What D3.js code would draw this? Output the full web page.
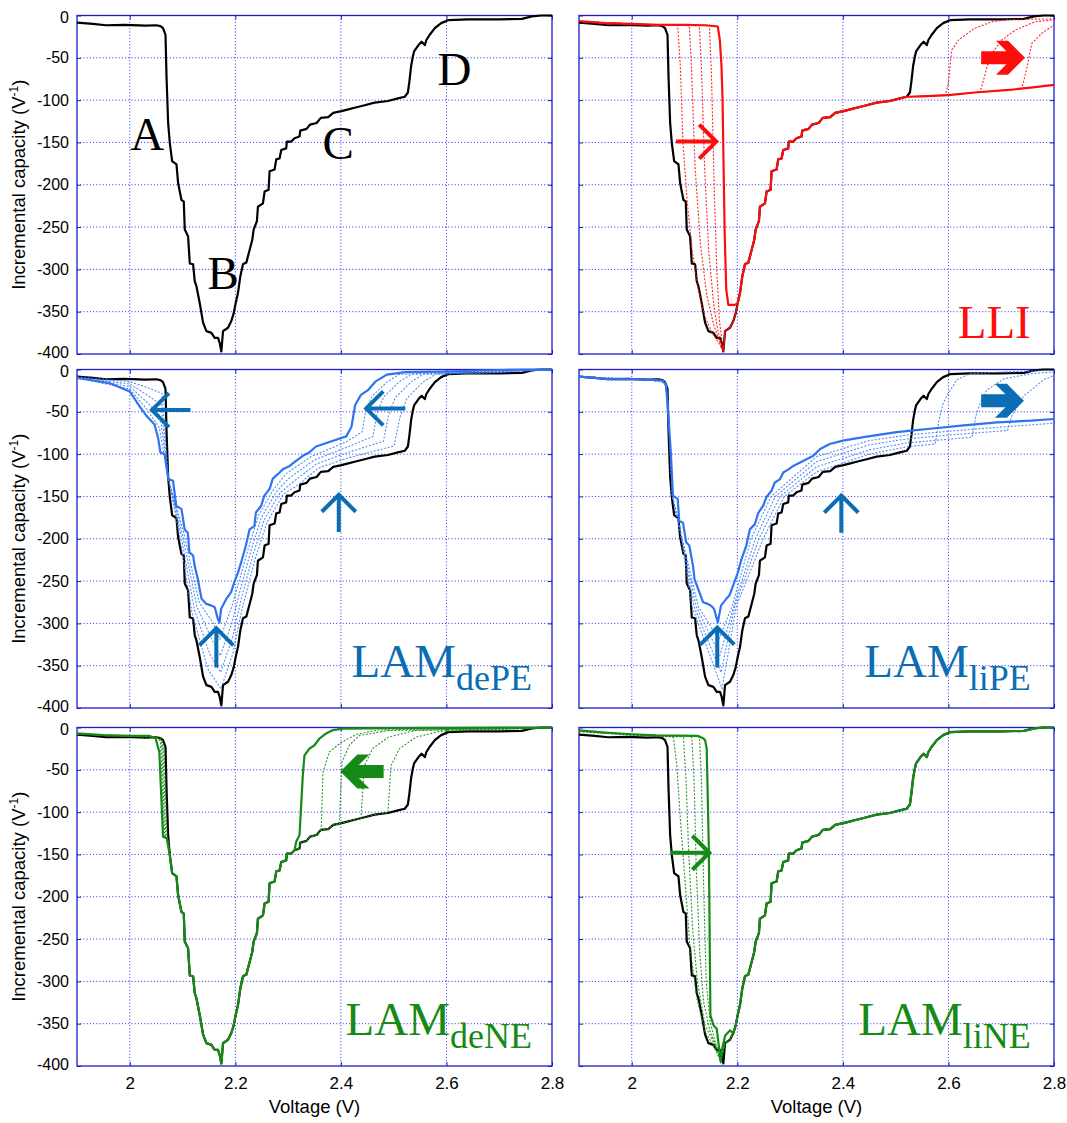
<!DOCTYPE html>
<html>
<head>
<meta charset="utf-8">
<script src="https://cdn.jsdelivr.net/npm/d3@7"></script>
<style>
  body { margin: 0; background: #fff; }
  svg { display: block; }
</style>
</head>
<body>
<svg id="chart" width="1067" height="1123"></svg>
<script>
// ---------------------------------------------------------------
// Axis values
// ---------------------------------------------------------------
const voltageDomain = [1.9, 2.8];
const capacityDomain = [-400, 0];
const voltageTicks = [2, 2.2, 2.4, 2.6, 2.8];
const voltageGrid = [1.9, 2, 2.2, 2.4, 2.6, 2.8];
const capacityTicks = [0, -50, -100, -150, -200, -250, -300, -350, -400];

// ---------------------------------------------------------------
// Pristine cell: incremental capacity vs voltage [V, V^-1]
// ---------------------------------------------------------------
const baseCurve = [
  [1.900,-8.5],[1.930,-10],[1.955,-11.5],[1.990,-11],[2.030,-12],[2.050,-11.5],[2.058,-12.5],[2.063,-15],
  [2.0677,-23],[2.0696,-72],[2.0727,-127],[2.0759,-151],[2.0803,-172],[2.0885,-176],[2.0916,-198],
  [2.0979,-218],[2.1023,-220],[2.1042,-253],[2.1105,-261],[2.1137,-293],[2.1200,-294],[2.1231,-314],
  [2.1263,-320],[2.1326,-340],[2.1389,-363],[2.1452,-373],[2.1547,-375],[2.1609,-381],[2.1672,-381],
  [2.1704,-387],[2.1735,-397],[2.1767,-373],[2.1861,-369],[2.1924,-361],[2.1969,-352],[2.2006,-340],
  [2.2050,-328],[2.2095,-308],[2.2145,-294],[2.2208,-292],[2.2271,-277],[2.2321,-265],[2.2347,-253],
  [2.2409,-243],[2.2428,-226],[2.2523,-222],[2.2555,-208],[2.2630,-206],[2.2649,-184],[2.2744,-182],
  [2.2775,-170],[2.2838,-169],[2.2870,-159],[2.2964,-157],[2.2976,-149],[2.3059,-149],[2.3122,-145],
  [2.3216,-143],[2.3230,-136],[2.3350,-134],[2.3415,-129],[2.3540,-127],[2.3620,-121],[2.3760,-120],
  [2.3855,-115],[2.4010,-113],[2.4140,-111],[2.4260,-109],[2.4450,-106],[2.4640,-103],[2.4890,-101],
  [2.5080,-98],[2.5210,-96],[2.5270,-91],[2.5300,-77],[2.5330,-60],[2.5365,-48],[2.5390,-42],
  [2.5470,-35],[2.5530,-31],[2.5590,-35],[2.5620,-29],[2.5680,-23],[2.5780,-15],[2.5900,-9],
  [2.6030,-5.5],[2.6410,-4.5],[2.7000,-4.5],[2.7430,-4],[2.7620,-1],[2.7800,0],[2.8000,0]
];

// ---------------------------------------------------------------
// LLI: loss of lithium inventory
// ---------------------------------------------------------------
const lliFinalStart = [
  [1.900,-6.5],[1.950,-9],[2.000,-10],[2.050,-11],[2.100,-11],[2.140,-11.5],[2.163,-13],[2.167,-30],
  [2.170,-60],[2.172,-100],[2.174,-180],[2.176,-257],[2.179,-324],[2.183,-342],[2.195,-342],[2.2006,-340]
];
const lliShelf = [[2.550,-95.5],[2.600,-94],[2.650,-91],[2.714,-88],[2.760,-85],[2.800,-82]];
const lliStepsLeft = [
  [[1.9,-7],[2.0,-10],[2.05,-11],[2.087,-12],[2.092,-60],[2.097,-150],[2.105,-220],[2.115,-280],[2.125,-320],[2.138,-355],[2.152,-375],[2.165,-387],[2.1735,-397]],
  [[1.9,-7],[2.0,-10],[2.05,-11],[2.109,-12],[2.113,-60],[2.120,-180],[2.130,-270],[2.142,-330],[2.155,-365],[2.166,-385],[2.1735,-397]],
  [[1.9,-7],[2.0,-10],[2.05,-11],[2.128,-12],[2.132,-60],[2.138,-180],[2.146,-280],[2.155,-340],[2.163,-372],[2.1735,-397]],
  [[1.9,-7],[2.0,-10],[2.05,-11],[2.147,-12],[2.151,-70],[2.156,-200],[2.161,-300],[2.166,-360],[2.1735,-397]]
];
const lliStepsRight = [
  [[2.594,-94],[2.600,-80],[2.606,-41],[2.619,-29],[2.650,-15],[2.682,-7.5],[2.714,-4.7],[2.800,-4]],
  [[2.660,-90.5],[2.667,-75],[2.673,-61],[2.682,-45],[2.701,-29],[2.727,-17],[2.764,-7.5],[2.800,-5]],
  [[2.739,-86.5],[2.749,-61],[2.758,-33],[2.777,-21],[2.800,-11]],
  [[2.800,-82]]
];

// ---------------------------------------------------------------
// LAM of delithiated positive electrode
// ---------------------------------------------------------------
const dePeFinal = [
  [1.900,-10],[1.961,-16],[2.000,-26],[2.017,-42],[2.032,-55],[2.047,-65],[2.054,-82],[2.058,-98],[2.066,-100],
  [2.073,-129.5],[2.082,-131.5],[2.088,-161],[2.098,-165],[2.104,-189],[2.110,-193],[2.113,-216],[2.120,-220],
  [2.123,-232],[2.129,-248],[2.136,-271],[2.145,-277],[2.155,-279],[2.161,-281],[2.167,-295],[2.170,-299],
  [2.173,-283],[2.183,-271],[2.192,-263],[2.198,-251.5],[2.205,-240],[2.211,-228],[2.220,-208],[2.227,-189],
  [2.236,-185],[2.239,-169],[2.249,-161],[2.255,-149],[2.265,-141],[2.271,-129],[2.280,-124],[2.290,-118],
  [2.303,-114],[2.315,-108],[2.328,-102],[2.340,-98],[2.353,-91],[2.381,-85],[2.410,-79],[2.420,-68],
  [2.427,-42],[2.438,-30],[2.452,-24],[2.466,-14],[2.487,-6],[2.522,-3],[2.592,-2.4],[2.662,-1.2],[2.760,0],[2.800,0]
];
const dePeSteps = [
  [[1.9,-9.7],[2.0,-23.1],[2.0316,-46.4],[2.0558,-68.6],[2.073,-129.4],[2.1015,-190.8],[2.1315,-275.4],[2.1578,-299.4],
   [2.1707,-318.6],[2.193,-280.8],[2.2069,-250.8],[2.2246,-211.6],[2.2442,-172],[2.2715,-142.6],[2.2963,-123],
   [2.3444,-102.6],[2.4108,-85.4],[2.4402,-73.6],[2.4482,-45.6],[2.4598,-31],[2.4884,-14.2],[2.5102,-5.9],[2.62,-2.8],[2.8,0]],
  [[1.9,-9.4],[2.0,-20.2],[2.0312,-37.8],[2.0576,-55.2],[2.073,-128.8],[2.099,-192.6],[2.127,-279.8],[2.1547,-317.8],
   [2.1714,-338.2],[2.194,-298.6],[2.2088,-261.6],[2.2291,-215.2],[2.2494,-175],[2.278,-144.2],[2.3026,-128],
   [2.3488,-107.2],[2.4116,-91.8],[2.4606,-79.2],[2.4694,-49.2],[2.4816,-32],[2.5108,-14.4],[2.5334,-5.8],[2.64,-3.2],[2.8,0]],
  [[1.9,-9.1],[2.0,-17.3],[2.0308,-29.2],[2.0594,-41.8],[2.073,-128.2],[2.0966,-194.4],[2.1226,-284.2],[2.1515,-336.2],
   [2.1721,-357.8],[2.195,-316.4],[2.2107,-272.4],[2.2337,-218.8],[2.2545,-178],[2.2846,-145.8],[2.309,-133],
   [2.3532,-111.8],[2.4124,-98.2],[2.4806,-84.8],[2.4906,-52.8],[2.5034,-33],[2.5332,-14.6],[2.5566,-5.7],[2.66,-3.7],[2.8,0]],
  [[1.9,-8.8],[2.0,-14.4],[2.0304,-20.6],[2.0612,-28.4],[2.073,-127.6],[2.0941,-196.2],[2.1182,-288.6],[2.1484,-354.6],
   [2.1728,-377.4],[2.196,-334.2],[2.2126,-283.2],[2.2382,-222.4],[2.2597,-181],[2.2911,-147.4],[2.3153,-138],
   [2.3576,-116.4],[2.4132,-104.6],[2.5008,-90.4],[2.5118,-56.4],[2.5252,-34],[2.5556,-14.8],[2.5798,-5.6],[2.68,-4.1],[2.8,0]]
];

// ---------------------------------------------------------------
// LAM of lithiated positive electrode
// ---------------------------------------------------------------
const liPeFinal = [
  [1.900,-8.5],[1.930,-10],[1.955,-11.5],[1.990,-11],[2.030,-12],[2.059,-13],[2.065,-19],[2.068,-43],[2.074,-98],
  [2.078,-149],[2.087,-153],[2.090,-179],[2.097,-181],[2.103,-204],[2.109,-208],[2.116,-232],[2.119,-248],
  [2.128,-263],[2.135,-275],[2.144,-277],[2.150,-279],[2.156,-283],[2.163,-299],[2.169,-279],[2.179,-271],
  [2.185,-267],[2.192,-255.5],[2.201,-240],[2.208,-224],[2.217,-208],[2.224,-188.6],[2.233,-183],[2.240,-169],
  [2.249,-161],[2.255,-151],[2.265,-143],[2.271,-133.5],[2.281,-129.5],[2.287,-121.7],[2.297,-118],[2.306,-114],
  [2.319,-110],[2.331,-106],[2.344,-102],[2.357,-94],[2.375,-88],[2.400,-84],[2.439,-80],[2.502,-74],[2.534,-72],
  [2.565,-70],[2.629,-66],[2.692,-62.5],[2.756,-60.5],[2.800,-58.5]
];
const liPeSteps = [
  [[1.9,-8.5],[2.03,-12],[2.063,-15],[2.0685,-40],[2.077,-150],[2.09,-185],[2.126,-280],[2.165,-319],[2.19,-280],
   [2.226,-200],[2.264,-150],[2.35,-103],[2.45,-84],[2.52,-77.6],[2.6,-73],[2.7,-68],[2.8,-63.5]],
  [[1.9,-8.5],[2.03,-12],[2.063,-15],[2.0685,-40],[2.077,-150],[2.09,-185],[2.122,-280],[2.167,-338],[2.193,-280],
   [2.234,-200],[2.272,-150],[2.35,-109],[2.45,-89],[2.52,-82.2],[2.6,-77.5],[2.712,-72],[2.72,-55],[2.743,-31],[2.781,-12],[2.8,-7]],
  [[1.9,-8.5],[2.03,-12],[2.063,-15],[2.0685,-40],[2.077,-150],[2.09,-185],[2.118,-280],[2.169,-358],[2.195,-280],
   [2.241,-200],[2.281,-150],[2.35,-115],[2.45,-95],[2.52,-86.8],[2.58,-83.5],[2.645,-80],[2.652,-55],[2.66,-40],
   [2.673,-24],[2.705,-11],[2.756,-5],[2.8,-3]],
  [[1.9,-8.5],[2.03,-12],[2.063,-15],[2.0685,-40],[2.077,-150],[2.09,-185],[2.114,-280],[2.171,-377],[2.198,-280],
   [2.249,-200],[2.289,-150],[2.35,-121],[2.45,-100],[2.52,-91.4],[2.575,-88],[2.582,-60],[2.59,-40],[2.6,-28],
   [2.616,-12],[2.641,-5],[2.7,-3],[2.8,-1]]
];

// ---------------------------------------------------------------
// LAM of delithiated negative electrode
// ---------------------------------------------------------------
const deNeStart = [[1.900,-7],[1.950,-9],[2.000,-10],[2.038,-10],[2.049,-13],[2.056,-29],[2.059,-72],[2.063,-129],[2.070,-131],[2.0727,-140]];
const deNeEnd = [
  [2.3153,-135],[2.3216,-127],[2.3279,-56],[2.331,-33],[2.3405,-25],[2.350,-21],[2.3594,-13],[2.372,-7],
  [2.385,-3],[2.4036,-1.4],[2.492,-0.8],[2.618,-0.5],[2.800,0]
];
const deNeStepsLeft = [
  [[1.9,-7.5],[2.0,-10.5],[2.04,-11],[2.052,-12],[2.058,-16],[2.061,-60],[2.064,-128],[2.072,-132]],
  [[1.9,-7.5],[2.0,-10.5],[2.04,-11],[2.054,-12],[2.060,-17],[2.063,-60],[2.066,-128],[2.073,-133]],
  [[1.9,-7.5],[2.0,-10.5],[2.04,-11],[2.056,-12],[2.062,-17],[2.065,-60],[2.068,-128],[2.0735,-135]],
  [[1.9,-7.5],[2.0,-10.5],[2.04,-11],[2.058,-12],[2.064,-18],[2.067,-60],[2.0705,-128],[2.074,-140]]
];
const deNeStepsRight = [
  [[2.3626,-123],[2.366,-53],[2.378,-29],[2.400,-18],[2.430,-8],[2.470,-3],[2.550,-2],[2.800,0]],
  [[2.397,-115],[2.402,-41],[2.416,-21],[2.435,-9.5],[2.490,-3.6],[2.800,-0.5]],
  [[2.438,-107.5],[2.4446,-45],[2.460,-25],[2.490,-11.4],[2.540,-3.6],[2.800,-0.5]],
  [[2.489,-101],[2.495,-45],[2.511,-25],[2.542,-11.4],[2.586,-4.8],[2.650,-3],[2.800,-0.5]]
];

// ---------------------------------------------------------------
// LAM of lithiated negative electrode
// ---------------------------------------------------------------
const liNeStart = [
  [1.900,-3.5],[1.950,-6],[2.000,-8],[2.047,-9.4],[2.126,-10],[2.136,-13],[2.139,-15],[2.142,-25],[2.146,-143],
  [2.149,-340],[2.155,-352],[2.161,-356],[2.1685,-395],[2.171,-380],[2.177,-364],[2.186,-358]
];
const liNeStepsLeft = [
  [[1.9,-5],[2.0,-9],[2.05,-10.5],[2.075,-11],[2.079,-12],[2.0853,-45],[2.0916,-104],[2.1011,-183],[2.1106,-262],[2.1233,-320],[2.139,-360],[2.155,-376],[2.1685,-395]],
  [[1.9,-4.5],[2.0,-8.7],[2.05,-10],[2.094,-11],[2.098,-12],[2.103,-65],[2.1075,-143],[2.1157,-242],[2.1245,-301],[2.139,-352],[2.158,-376],[2.1685,-395]],
  [[1.9,-4],[2.0,-8.4],[2.05,-9.8],[2.110,-10.5],[2.1138,-12],[2.1182,-65],[2.122,-163],[2.1283,-261],[2.136,-324],[2.1486,-360],[2.1612,-378],[2.1685,-395]],
  [[1.9,-4],[2.0,-8.2],[2.05,-9.6],[2.124,-10.5],[2.1283,-12],[2.1321,-65],[2.136,-183],[2.141,-301],[2.1486,-348],[2.158,-372],[2.1685,-395]]
];

// ---------------------------------------------------------------
// Annotations (anchored in data units)
// ---------------------------------------------------------------
const peakLetters = [
  { text: "A", v: 2.033, c: -159 },
  { text: "B", v: 2.177, c: -323 },
  { text: "C", v: 2.395, c: -170 },
  { text: "D", v: 2.615, c: -82 }
];
const lliArrows = [
  { kind: "thin", from: [2.084, -149], to: [2.160, -149] },
  { kind: "bold", from: [2.662, -50], to: [2.745, -50] }
];
const dePeArrows = [
  { kind: "thin", from: [2.115, -48], to: [2.042, -48] },
  { kind: "thin", from: [2.522, -46], to: [2.448, -46] },
  { kind: "thin", from: [2.396, -192], to: [2.396, -148] },
  { kind: "thin", from: [2.164, -352], to: [2.164, -306] }
];
const liPeArrows = [
  { kind: "thin", from: [2.162, -352], to: [2.162, -305] },
  { kind: "thin", from: [2.397, -193], to: [2.397, -149] },
  { kind: "bold", from: [2.662, -37], to: [2.743, -37] }
];
const deNeArrows = [
  { kind: "bold", from: [2.481, -52], to: [2.399, -52] }
];
const liNeArrows = [
  { kind: "thin", from: [2.073, -148], to: [2.147, -148] }
];

// ---------------------------------------------------------------
// Assemble curves from the measured pieces
// ---------------------------------------------------------------
const seg = (curve, v0, v1) => curve.filter(p => p[0] >= v0 && p[0] <= v1);

const lliFinal = [...lliFinalStart, ...seg(baseCurve, 2.201, 2.522), ...lliShelf];
const lliSteps = lliStepsLeft.map((left, i) => {
  const right = lliStepsRight[i];
  return [...left, ...seg(baseCurve, 2.175, 2.522), ...seg(lliShelf, 2.53, right[0][0] - 1e-6), ...right];
});
const deNeFinal = [...deNeStart, ...seg(baseCurve, 2.075, 2.3125), ...deNeEnd];
const deNeSteps = deNeStepsLeft.map((left, i) => {
  const right = deNeStepsRight[i];
  return [...left, ...seg(baseCurve, 2.0755, right[0][0] - 1e-6), ...right];
});
const liNeFinal = [...liNeStart, ...seg(baseCurve, 2.19, 2.8)];
const liNeSteps = liNeStepsLeft.map(left => [...left, ...seg(baseCurve, 2.175, 2.8)]);

// ---------------------------------------------------------------
// Layout and styles
// ---------------------------------------------------------------
const colX = [77, 579];
const rowY = [15.5, 369.5, 727.5];
const panelW = 475, panelH = 338.5;

const RED = "#ff0d0d", BLUE = "#2f72f2", BLUE_DARK = "#0b6db3", GREEN = "#168a16";
const GRID = "#2b2be6", FRAME = "#1c1cc8";
const SANS = "'Liberation Sans', Arial, Helvetica, sans-serif";
const SERIF = "'Liberation Serif', 'Times New Roman', Times, serif";

const panels = [
  { col: 0, row: 0, color: null, steps: [], final: null, letters: peakLetters, arrows: [], arrowColor: "#000" },
  { col: 1, row: 0, color: RED, stepColor: RED, steps: lliSteps, final: lliFinal,
    label: { main: "LLI", sub: "", v: 2.756, c: -381 }, arrows: lliArrows, arrowColor: RED },
  { col: 0, row: 1, color: BLUE, stepColor: "#3f82f0", steps: dePeSteps, final: dePeFinal,
    label: { main: "LAM", sub: "dePE", v: 2.762, c: -363 }, arrows: dePeArrows, arrowColor: BLUE_DARK, labelColor: BLUE_DARK },
  { col: 1, row: 1, color: BLUE, stepColor: "#3f82f0", steps: liPeSteps, final: liPeFinal,
    label: { main: "LAM", sub: "liPE", v: 2.756, c: -363 }, arrows: liPeArrows, arrowColor: BLUE_DARK, labelColor: BLUE_DARK },
  { col: 0, row: 2, color: GREEN, stepColor: GREEN, steps: deNeSteps, final: deNeFinal,
    label: { main: "LAM", sub: "deNE", v: 2.762, c: -363 }, arrows: deNeArrows, arrowColor: GREEN },
  { col: 1, row: 2, color: GREEN, stepColor: GREEN, steps: liNeSteps, final: liNeFinal,
    label: { main: "LAM", sub: "liNE", v: 2.756, c: -363 }, arrows: liNeArrows, arrowColor: GREEN }
];

const svg = d3.select("#chart");
svg.append("rect").attr("width", 1067).attr("height", 1123).attr("fill", "#fff");

panels.forEach((p, idx) => {
  const left = colX[p.col], top = rowY[p.row];
  const x = d3.scaleLinear().domain(voltageDomain).range([left, left + panelW]);
  const y = d3.scaleLinear().domain(capacityDomain).range([top + panelH, top]);
  const g = svg.append("g").attr("class", "panel");

  // dotted grid
  g.append("g").selectAll("line").data(voltageGrid.slice(1, -1)).join("line")
    .attr("x1", d => x(d)).attr("x2", d => x(d)).attr("y1", top).attr("y2", top + panelH)
    .attr("stroke", GRID).attr("stroke-width", 1).attr("stroke-dasharray", "1,2.2");
  g.append("g").selectAll("line").data(capacityTicks.slice(1, -1)).join("line")
    .attr("x1", left).attr("x2", left + panelW).attr("y1", d => y(d)).attr("y2", d => y(d))
    .attr("stroke", GRID).attr("stroke-width", 1).attr("stroke-dasharray", "1,2.2");

  // axes: inward ticks on every side, labels on the outer edges only
  const styleAxis = sel => {
    sel.select(".domain").remove();
    sel.selectAll(".tick line").attr("stroke", FRAME);
    sel.selectAll(".tick text").attr("fill", "#000").style("font-family", SANS).style("font-size", "16px");
  };
  const yAxis = g.append("g").attr("transform", `translate(${left},0)`)
    .call(d3.axisLeft(y).tickValues(capacityTicks).tickSizeInner(-4).tickSizeOuter(0).tickPadding(8)
      .tickFormat(d => p.col === 0 ? String(d) : ""))
    .call(styleAxis);
  // keep the end labels of stacked panels apart
  yAxis.selectAll(".tick text").attr("dy", d => d === 0 ? "0.42em" : d === -400 ? "0.22em" : "0.32em");
  g.append("g").attr("transform", `translate(${left + panelW},0)`)
    .call(d3.axisRight(y).tickValues(capacityTicks).tickSizeInner(-4).tickSizeOuter(0).tickFormat(() => ""))
    .call(styleAxis);
  g.append("g").attr("transform", `translate(0,${top})`)
    .call(d3.axisTop(x).tickValues(voltageTicks).tickSizeInner(-4).tickSizeOuter(0).tickFormat(() => ""))
    .call(styleAxis);
  g.append("g").attr("transform", `translate(0,${top + panelH})`)
    .call(d3.axisBottom(x).tickValues(voltageTicks).tickSizeInner(-4).tickSizeOuter(0).tickPadding(11)
      .tickFormat(d => p.row === 2 ? String(d) : ""))
    .call(styleAxis)
    .call(s => s.selectAll(".tick text").style("font-size", "17px"));

  // frame
  g.append("rect").attr("x", left).attr("y", top).attr("width", panelW).attr("height", panelH)
    .attr("fill", "none").attr("stroke", FRAME).attr("stroke-width", 1.3);

  // curves
  const clipId = "clip" + idx;
  svg.append("clipPath").attr("id", clipId).append("rect")
    .attr("x", left - 2).attr("y", top - 2).attr("width", panelW + 4).attr("height", panelH + 4);
  const line = d3.line().x(d => x(d[0])).y(d => y(d[1]));
  const cg = g.append("g").attr("clip-path", `url(#${clipId})`);

  cg.append("path").datum(baseCurve).attr("d", line)
    .attr("fill", "none").attr("stroke", "#000").attr("stroke-width", 2.2).attr("stroke-linejoin", "round");

  cg.selectAll("path.step").data(p.steps).join("path").attr("class", "step")
    .attr("d", line).attr("fill", "none").attr("stroke", p.stepColor)
    .attr("stroke-width", 1.1).attr("stroke-dasharray", "2,1.6").attr("opacity", 0.9);

  if (p.final) {
    cg.append("path").datum(p.final).attr("d", line)
      .attr("fill", "none").attr("stroke", p.color).attr("stroke-width", 2.2).attr("stroke-linejoin", "round");
  }

  // peak letters
  if (p.letters) {
    g.selectAll("text.peak").data(p.letters).join("text").attr("class", "peak")
      .attr("x", d => x(d.v)).attr("y", d => y(d.c)).attr("text-anchor", "middle")
      .style("font-family", SERIF).style("font-size", "47px").attr("fill", "#000").text(d => d.text);
  }

  // panel label
  if (p.label) {
    const t = g.append("text").attr("x", x(p.label.v)).attr("y", y(p.label.c))
      .attr("text-anchor", "end").style("font-family", SERIF)
      .attr("fill", p.labelColor || p.color);
    t.append("tspan").style("font-size", "47px").text(p.label.main);
    if (p.label.sub) t.append("tspan").attr("dy", 13).style("font-size", "36px").text(p.label.sub);
  }

  // arrows
  p.arrows.forEach(a => {
    const x0 = x(a.from[0]), y0 = y(a.from[1]), x1 = x(a.to[0]), y1 = y(a.to[1]);
    const len = Math.hypot(x1 - x0, y1 - y0);
    const ang = Math.atan2(y1 - y0, x1 - x0) * 180 / Math.PI;
    const ag = g.append("g").attr("transform", `translate(${x1},${y1}) rotate(${ang})`);
    if (a.kind === "thin") {
      ag.append("path")
        .attr("d", `M${-len},0 L0,0 M-17,-17 L0,0 L-17,17`)
        .attr("fill", "none").attr("stroke", p.arrowColor).attr("stroke-width", 4)
        .attr("stroke-linejoin", "miter").attr("stroke-linecap", "butt");
    } else {
      const h = 6.5, t = 12, hh = 17, hl = 17;
      const pts = [[0, 0], [-hl, -hh], [-hl - t, -hh], [-t - h * (hl / hh), -h], [-len, -h],
                   [-len, h], [-t - h * (hl / hh), h], [-hl - t, hh], [-hl, hh]];
      ag.append("polygon").attr("points", pts.map(q => q.join(",")).join(" "))
        .attr("fill", p.arrowColor);
    }
  });

  // axis titles
  if (p.col === 0) {
    const cy = top + panelH / 2;
    const t = svg.append("text").attr("transform", `translate(25,${cy}) rotate(-90)`)
      .attr("text-anchor", "middle").style("font-family", SANS).style("font-size", "18.5px").attr("fill", "#000");
    t.append("tspan").text("Incremental capacity (V");
    t.append("tspan").attr("dy", -7).style("font-size", "12px").text("-1");
    t.append("tspan").attr("dy", 7).text(")");
  }
  if (p.row === 2) {
    svg.append("text").attr("x", left + panelW / 2).attr("y", 1113).attr("text-anchor", "middle")
      .style("font-family", SANS).style("font-size", "18.5px").attr("fill", "#000").text("Voltage (V)");
  }
});
</script>
</body>
</html>
